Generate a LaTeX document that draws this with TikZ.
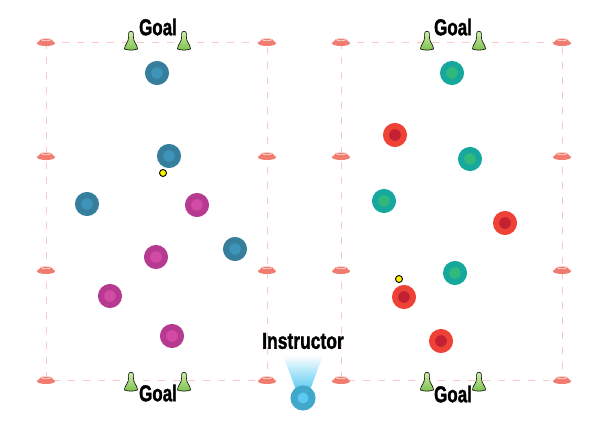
\documentclass[tikz,border=0pt]{standalone}
\usepackage{fontspec}
\setmainfont{Liberation Sans}
\newfontfamily\heavyfont{Liberation Sans}[BoldFeatures={FakeBold=1.6}]
\usetikzlibrary{positioning}
\definecolor{linepink}{HTML}{F9C9C6}
\definecolor{conesalmon}{HTML}{F07B6F}
\definecolor{postgreen}{HTML}{7CC04B}
\definecolor{postlight}{HTML}{D2EFB0}
\definecolor{blueout}{HTML}{367E9B}
\definecolor{bluein}{HTML}{3C95B8}
\definecolor{pinkout}{HTML}{B63A90}
\definecolor{pinkin}{HTML}{D24BA5}
\definecolor{tealout}{HTML}{17A89D}
\definecolor{tealin}{HTML}{31B87C}
\definecolor{redout}{HTML}{EE4237}
\definecolor{redin}{HTML}{C32034}
\definecolor{coachout}{HTML}{41A7CB}
\definecolor{coachin}{HTML}{5ACAF2}
\tikzset{
  field line/.style={linepink,line width=0.8pt,dash pattern=on 7pt off 8pt},
  player/.style={circle,minimum size=18pt,inner sep=0pt,line width=6pt},
  blue player/.style={player,draw=blueout,fill=bluein},
  pink player/.style={player,draw=pinkout,fill=pinkin},
  teal player/.style={player,draw=tealout,fill=tealin},
  red player/.style={player,draw=redout,fill=redin},
  ball/.style={circle,draw=black,fill=yellow,minimum size=7pt,inner sep=0pt,line width=0.9pt},
  big label/.style={font=\heavyfont\bfseries\fontsize{23}{25}\selectfont,inner sep=0pt},
  pitchcone/.pic={
    \fill[conesalmon] (0,1.2) ellipse (9 and 2.8);
    \fill[conesalmon] (-8.5,1.2) -- (-5,-3.2) -- (5,-3.2) -- (8.5,1.2) -- cycle;
    \draw[white!65!conesalmon,line width=0.7pt] (0,-2.4) ellipse (5 and 1.1);
  },
  goalpost/.pic={
    \draw[black,line width=0.6pt,top color=postlight,bottom color=postgreen]
      (-6.5,8) .. controls (-6.5,3) and (-2.4,2) .. (-2.4,-4) -- (-2.4,-7.5)
      .. controls (-2.4,-10.5) and (2.4,-10.5) .. (2.4,-7.5) -- (2.4,-4)
      .. controls (2.4,2) and (6.5,3) .. (6.5,8)
      .. controls (3,9.5) and (-3,9.5) .. (-6.5,8) -- cycle;
  },
}
\begin{document}
\begin{tikzpicture}[x=1pt,y=-1pt]
  \useasboundingbox (0,0) rectangle (612,425);
  % pitches
  \draw[field line] (46,42) rectangle (267,380);
  \draw[field line] (341,42) rectangle (562,380);
  \foreach \x in {46,267,341,562}
    \foreach \y in {42,156,270,380}
      \pic at (\x,\y) {pitchcone};
  % goals
  \foreach \x in {131,184,427,479} {
    \pic at (\x,41) {goalpost};
    \pic at (\x,382) {goalpost};
  }
  \node[big label] (goalA) at (158,27) {\scalebox{0.74}[1]{Goal}};
  \node[big label] (goalB) at (158,393) {\scalebox{0.74}[1]{Goal}};
  \node[big label] (goalC) at (453,27) {\scalebox{0.74}[1]{Goal}};
  \node[big label] (goalD) at (453,394) {\scalebox{0.74}[1]{Goal}};
  % left pitch
  \node[blue player] (b1) at (157,73) {};
  \node[blue player] (b2) at (169,156) {};
  \node[blue player] (b3) at (87,204) {};
  \node[blue player] (b4) at (235,249) {};
  \node[pink player] (p1) at (197,205) {};
  \node[pink player] (p2) at (156,257) {};
  \node[pink player] (p3) at (110,296) {};
  \node[pink player] (p4) at (172,336) {};
  \node[ball] (ballA) at (163,173) {};
  % right pitch
  \node[teal player] (t1) at (452,73) {};
  \node[teal player] (t2) at (470,159) {};
  \node[teal player] (t3) at (384,201) {};
  \node[teal player] (t4) at (455,273) {};
  \node[red player] (r1) at (395,135) {};
  \node[red player] (r2) at (505,223) {};
  \node[red player] (r3) at (404,297) {};
  \node[red player] (r4) at (441,341) {};
  \node[ball] (ballB) at (399,279) {};
  % instructor
  \shade[top color=white,bottom color=coachin] (283,355) -- (323,355) -- (310,390) -- (296,390) -- cycle;
  \node[player,minimum size=18pt,line width=7pt,draw=coachout,fill=coachin] (coach) at (303,398) {};
  \node[big label] (coachlbl) at (303,341) {\scalebox{0.76}[1]{Instructor}};
\end{tikzpicture}
\end{document}
